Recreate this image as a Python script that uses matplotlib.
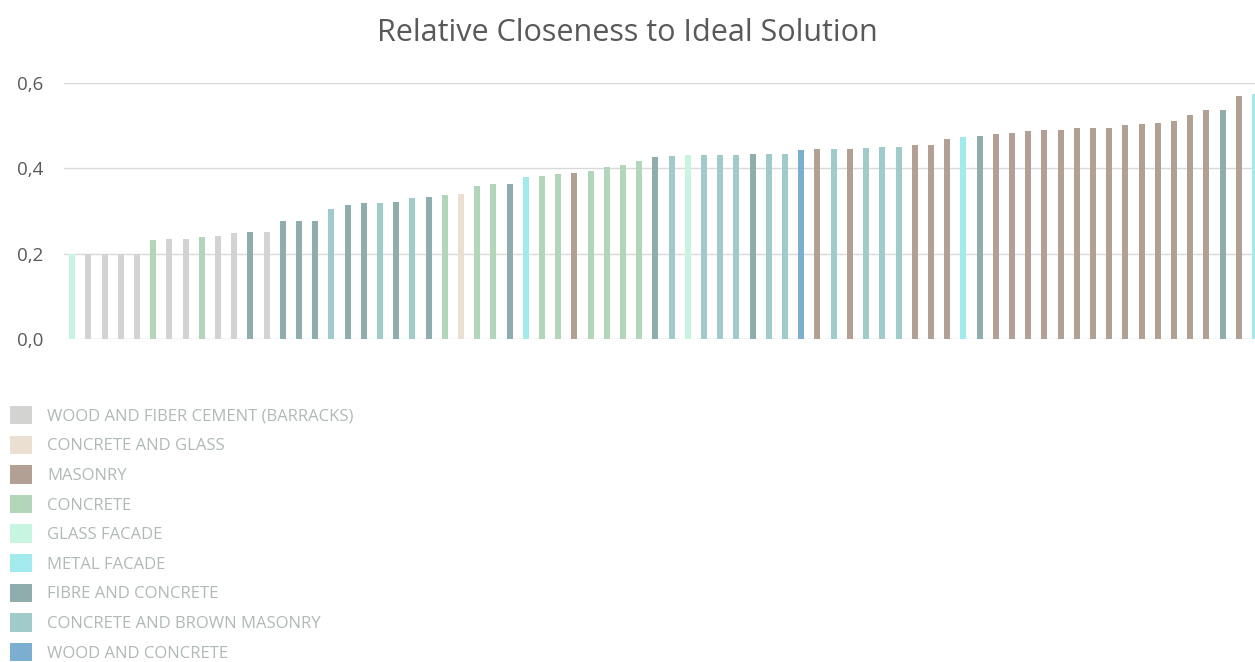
import matplotlib.pyplot as plt
from matplotlib.patches import Patch

# material groups and their colours
groups = [
    "WOOD AND FIBER CEMENT (BARRACKS)",
    "CONCRETE AND GLASS",
    "MASONRY",
    "CONCRETE",
    "GLASS FACADE",
    "METAL FACADE",
    "FIBRE AND CONCRETE",
    "CONCRETE AND BROWN MASONRY",
    "WOOD AND CONCRETE",
]
group_colors = ["#D3D3D1", "#EADFD0", "#B3A095", "#B3D5BA", "#C8F5E2",
                "#A2EAEC", "#8FADAD", "#A1CACA", "#7BAED0"]

# short codes for each alternative, sorted by closeness
W, CG, M, C, G, MF, F, CB, WC = range(9)
alt_group = [
    G, W, W, W, W, C, W, W, C, W, W, F, W, F, F, F, CB, F, F, CB,
    F, CB, F, C, CG, C, C, F, MF, C, C, M, C, C, C, C, F, CB, G, CB,
    CB, CB, F, CB, CB, WC, M, CB, M, CB, CB, CB, M, M, M, MF, F, M, M, M,
    M, M, M, M, M, M, M, M, M, M, M, F, M, MF,
]
closeness = [
    0.200, 0.200, 0.200, 0.200, 0.200, 0.232, 0.234, 0.234, 0.239, 0.241,
    0.248, 0.251, 0.251, 0.277, 0.277, 0.277, 0.305, 0.314, 0.319, 0.319,
    0.321, 0.330, 0.333, 0.337, 0.340, 0.359, 0.363, 0.363, 0.380, 0.382,
    0.387, 0.389, 0.394, 0.403, 0.408, 0.417, 0.427, 0.429, 0.431, 0.431,
    0.431, 0.431, 0.434, 0.434, 0.434, 0.443, 0.445, 0.445, 0.445, 0.448,
    0.450, 0.450, 0.455, 0.455, 0.469, 0.473, 0.476, 0.480, 0.483, 0.487,
    0.490, 0.490, 0.494, 0.494, 0.494, 0.502, 0.504, 0.506, 0.511, 0.525,
    0.537, 0.537, 0.570, 0.574,
]
y_ticks = [0.0, 0.2, 0.4, 0.6]
y_labels = ["0,0", "0,2", "0,4", "0,6"]

plt.rcParams["font.family"] = ["Open Sans", "DejaVu Sans"]

fig = plt.figure(figsize=(12.55, 6.62), dpi=100)
ax = fig.add_axes([64 / 1255, 1 - 339 / 662, 1191 / 1255, 256 / 662])

x = list(range(len(closeness)))
ax.bar(x, closeness, width=0.37, color=[group_colors[g] for g in alt_group],
       zorder=3)

ax.set_xlim(-0.5, 73.0)
ax.set_ylim(0, 0.6)
ax.set_yticks(y_ticks)
ax.set_yticklabels(y_labels, fontsize=13.5, color="#595959")
ax.set_xticks([])
ax.tick_params(axis="y", length=0, pad=15)
ax.grid(axis="y", color="#D9D9D9", linewidth=1.0, zorder=0)
for s in ax.spines.values():
    s.set_visible(False)

fig.text(0.5, 1 - 41 / 662, "Relative Closeness to Ideal Solution",
         ha="center", va="baseline", fontsize=22, color="#595959")

handles = [Patch(facecolor=c, edgecolor="none") for c in group_colors]
leg = fig.legend(handles, groups, loc="upper left",
                 bbox_to_anchor=(10 / 1255, 1 - 406 / 662),
                 frameon=False, fontsize=12, borderpad=0, borderaxespad=0,
                 handlelength=1.32, handleheight=1.32, handletextpad=0.9,
                 labelspacing=0.65)
for t in leg.get_texts():
    t.set_color("#B0B8B8")

fig.savefig("out.png", dpi=100)
